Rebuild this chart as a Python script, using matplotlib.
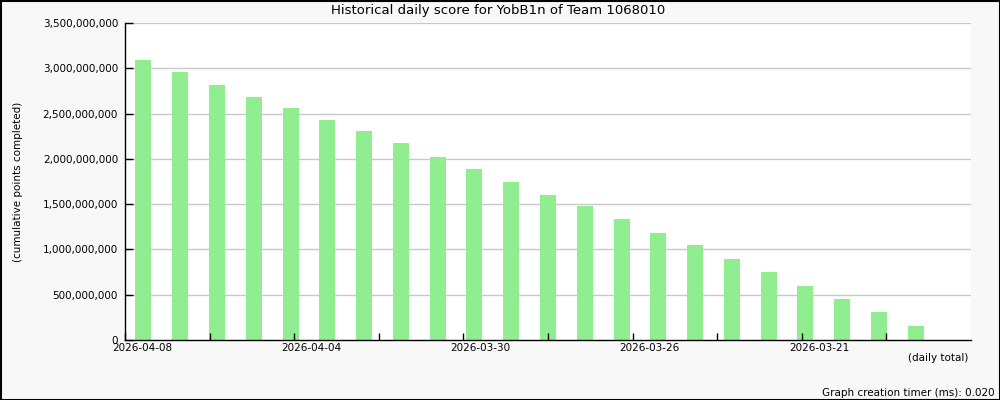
import numpy as np
import matplotlib
matplotlib.use("Agg")
import matplotlib.pyplot as plt
import matplotlib.transforms as mtransforms
from matplotlib.ticker import FuncFormatter

# Daily cumulative score, newest first (2026-04-08 back to 2026-03-18)
dates = ["2026-04-08", "2026-04-07", "2026-04-06", "2026-04-05", "2026-04-04",
         "2026-04-03", "2026-04-02", "2026-04-01", "2026-03-31", "2026-03-30",
         "2026-03-29", "2026-03-28", "2026-03-27", "2026-03-26", "2026-03-25",
         "2026-03-24", "2026-03-23", "2026-03-22", "2026-03-21", "2026-03-20",
         "2026-03-19", "2026-03-18"]
scores = [3.092e9, 2.959e9, 2.816e9, 2.683e9, 2.562e9, 2.429e9, 2.308e9, 2.175e9,
          2.021e9, 1.888e9, 1.744e9, 1.601e9, 1.480e9, 1.336e9, 1.181e9, 1.049e9,
          0.894e9, 0.751e9, 0.596e9, 0.453e9, 0.309e9, 0.155e9]
x_ticks = [0, 2.3, 4.6, 6.9, 9.2, 11.5, 13.8, 16.1, 18.4, 20.7]
x_tick_labels = ["2026-04-08", "", "2026-04-04", "", "2026-03-30", "",
                 "2026-03-26", "", "2026-03-21", ""]
y_ticks = [0, 5e8, 1e9, 1.5e9, 2e9, 2.5e9, 3e9, 3.5e9]

plt.rcParams['font.family'] = ['DejaVu Sans']

fig = plt.figure(figsize=(10, 4), dpi=100, facecolor='#f8f8f8')
ax = fig.add_axes([0.125, 0.15, 0.846, 0.7925])
ax.set_facecolor('white')

# gridlines behind the bars, ticks and spines on top
for yv in y_ticks[1:]:
    ax.axhline(yv, color='#c8c8c8', linewidth=1, zorder=1)

x = np.arange(len(scores)) + 0.5
ax.bar(x, scores, width=0.435, color='#90ee90', zorder=2)

ax.set_xlim(0, 23)
ax.set_ylim(0, 3.5e9)
ax.set_yticks(y_ticks)
ax.yaxis.set_major_formatter(FuncFormatter(lambda v, p: f"{int(v):,}"))
ax.set_axisbelow(False)

# x ticks without built-in labels; labels drawn shifted left of the tick
ax.set_xticks(x_ticks)
ax.set_xticklabels([])
offset = mtransforms.ScaledTranslation(-13 / 100, -3 / 100, fig.dpi_scale_trans)
for t, lbl in zip(x_ticks, x_tick_labels):
    if lbl:
        ax.text(t, 0, lbl, transform=ax.get_xaxis_transform() + offset,
                ha='left', va='top', fontsize=7.5)

ax.tick_params(axis='x', direction='in', length=5, width=1)
ax.tick_params(axis='y', direction='in', length=6, width=1, pad=5, labelsize=7.5)

for s in ['top', 'right']:
    ax.spines[s].set_visible(False)
for s in ['left', 'bottom']:
    ax.spines[s].set_color('black')
    ax.spines[s].set_linewidth(1)

fig.text(0.498, 0.974, "Historical daily score for YobB1n of Team 1068010",
         ha='center', va='center', fontsize=9.5)
fig.text(0.018, 0.545, "(cumulative points completed)", rotation=90,
         ha='center', va='center', fontsize=7.5)
fig.text(0.968, 0.105, "(daily total)", ha='right', va='center', fontsize=7.5)
fig.text(0.995, 0.017, "Graph creation timer (ms): 0.020", ha='right',
         va='center', fontsize=7.5)

# Outer border
fig.patches.append(plt.Rectangle((0.0005, 0.00125), 0.999, 0.9975,
                                 transform=fig.transFigure, fill=False,
                                 edgecolor='black', linewidth=1.5))

fig.savefig("out.png", dpi=100, facecolor=fig.get_facecolor())
